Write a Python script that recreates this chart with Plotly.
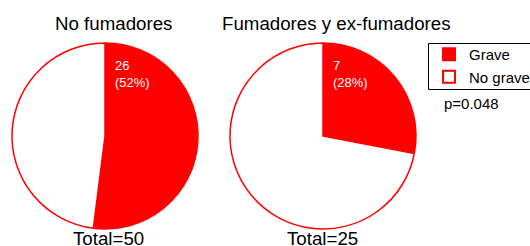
import plotly.graph_objects as go

W, H = 530, 246

labels = ["Grave", "No grave"]
no_fumadores = [26, 24]
fumadores = [7, 18]
titles = ["No fumadores", "Fumadores y ex-fumadores"]
p_text = "p=0.048"

colors = ["#ff0000", "#ffffff"]
RED = "#ff0000"

def px_x(x):
    return x / W

def px_y(y):
    return 1 - y / H

# pie geometry in pixels: center x, radius
centers = [105, 323]
cy, r = 136, 93

fig = go.Figure()
for i, vals in enumerate([no_fumadores, fumadores]):
    cx = centers[i]
    fig.add_trace(go.Pie(
        labels=labels, values=vals, sort=False, direction="clockwise", rotation=0,
        marker=dict(colors=colors, line=dict(color=RED, width=1.5)),
        textinfo="none", hoverinfo="label+value+percent",
        domain=dict(x=[px_x(cx - r), px_x(cx + r)], y=[px_y(cy + r), px_y(cy - r)]),
        showlegend=(i == 0),
    ))
    total = sum(vals)
    pct = round(100 * vals[0] / total)
    fig.add_annotation(x=px_x(cx + 8), y=px_y(56), xref="paper", yref="paper",
                       text=f"{vals[0]}<br>({pct}%)", showarrow=False,
                       xanchor="left", yanchor="top", align="left",
                       font=dict(size=13, color="white"))
    fig.add_annotation(x=px_x(113 if i == 0 else 336), y=px_y(23), xref="paper", yref="paper",
                       text=titles[i], showarrow=False, xanchor="center", yanchor="middle",
                       font=dict(size=18.7, color="black"))
    fig.add_annotation(x=px_x(108 if i == 0 else 322), y=px_y(238), xref="paper", yref="paper",
                       text=f"Total={total}", showarrow=False, xanchor="center", yanchor="middle",
                       font=dict(size=18.7, color="black"))

fig.add_annotation(x=px_x(442), y=px_y(103), xref="paper", yref="paper",
                   text=p_text, showarrow=False, xanchor="left", yanchor="middle",
                   font=dict(size=15, color="black"))

# legend frame
fig.add_shape(type="rect", xref="paper", yref="paper",
              x0=px_x(428.5), x1=px_x(531), y0=px_y(89.5), y1=px_y(43.5),
              line=dict(color="black", width=1), fillcolor="rgba(0,0,0,0)")

fig.update_layout(
    width=W, height=H,
    margin=dict(l=0, r=0, t=0, b=0, autoexpand=False),
    paper_bgcolor="white", plot_bgcolor="white",
    font=dict(family="Liberation Sans, Arial, sans-serif", color="black"),
    legend=dict(x=px_x(429), y=px_y(38), xanchor="left", yanchor="top",
                borderwidth=0, bgcolor="rgba(0,0,0,0)",
                font=dict(size=15), itemsizing="constant", tracegroupgap=0),
)

fig.write_html("out.html", config={"displayModeBar": False},
               post_script="document.body.style.margin='0';")
